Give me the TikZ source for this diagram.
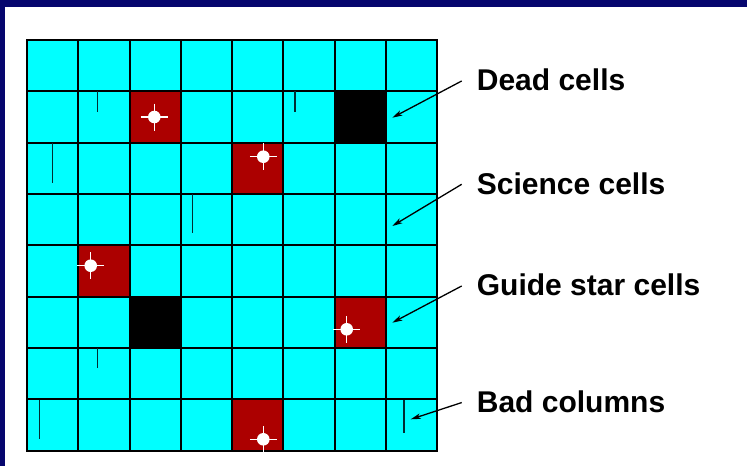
\documentclass[tikz,border=0pt]{standalone}
\usepackage{fontspec}
\setmainfont{Liberation Sans}
\usetikzlibrary{arrows.meta}
\definecolor{navyframe}{RGB}{6,6,110}
\definecolor{cellcyan}{RGB}{0,255,255}
\definecolor{guidered}{RGB}{172,0,0}
\tikzset{
  cellbox/.style={draw=black,line width=2pt,fill=cellcyan,minimum width=51.25pt,minimum height=51.35pt,inner sep=0pt,outer sep=0pt},
  deadcell/.style={cellbox,fill=black},
  guidecell/.style={cellbox,fill=guidered},
  badcol/.style={line width=1.2pt,draw={rgb,255:red,0;green,45;blue,50}},
  lbl/.style={font=\bfseries\fontsize{30}{32}\selectfont,inner sep=0pt,anchor=base west},
  arr/.style={line width=1.3pt,-{Stealth[length=10pt,width=5.5pt,inset=2.5pt,fill=white]}},
  pics/gstar/.style={code={
    \fill[white] (0,0) circle (6.3pt);
    \draw[white,line width=1.4pt] (-13.5,0) -- (13.5,0) (0,-13.5) -- (0,#1);
  }}
}
\begin{document}
\begin{tikzpicture}[x=1pt,y=-1pt]
\useasboundingbox (0,0) rectangle (747,466);
\fill[white] (0,0) rectangle (747,466);
\fill[navyframe] (0,0) rectangle (747,7);
\fill[navyframe] (0,0) rectangle (5,466);
% cells
\foreach \r in {0,...,7}{
  \foreach \c in {0,...,7}{
    \node[cellbox] (c-\c-\r) at ({27+51.25*(\c+0.5)},{40+51.35*(\r+0.5)}) {};
  }
}
\node[guidecell] (g1) at (c-2-1) {};
\node[deadcell]  (d1) at (c-6-1) {};
\node[guidecell] (g2) at (c-4-2) {};
\node[guidecell] (g3) at (c-1-4) {};
\node[deadcell]  (d2) at (c-2-5) {};
\node[guidecell] (g4) at (c-6-5) {};
\node[guidecell] (g5) at (c-4-7) {};
% bad columns
\draw[badcol] (97.3,91) -- (97.3,111.7);
\draw[badcol] (295,91) -- (295,111.7);
\draw[badcol] (52.3,142.7) -- (52.3,182.7);
\draw[badcol] (192.7,194) -- (192.7,233.3);
\draw[badcol] (97.3,348) -- (97.3,368.3);
\draw[badcol] (39.3,400) -- (39.3,439.3);
\draw[badcol] (404,400) -- (404,432.7);
% guide stars
\pic at (154.3,117) {gstar=13.5};
\pic at (263.3,156.7) {gstar=13.5};
\pic at (90.7,265.7) {gstar=13.5};
\pic at (346.7,329.3) {gstar=13.5};
\pic at (263.3,439.3) {gstar=30};
% labels
\node[lbl] (ldead) at (476.7,90.7) {Dead cells};
\node[lbl] (lsci) at (476.7,194) {Science cells};
\node[lbl] (lguide) at (476.7,295.7) {Guide star cells};
\node[lbl] (lbad) at (476.7,412.3) {Bad columns};
\coordinate (tdead) at (392.3,117.7);
\coordinate (tsci) at (392.3,226);
\coordinate (tguide) at (392.3,322.7);
\coordinate (tbad) at (410.7,419.3);
\draw[arr] ([xshift=-15pt,yshift=-1pt]ldead.west) -- (tdead);
\draw[arr] ([xshift=-15pt,yshift=-1pt]lsci.west) -- (tsci);
\draw[arr] ([xshift=-15pt,yshift=-1pt]lguide.west) -- (tguide);
\draw[arr] ([xshift=-15pt,yshift=-1pt]lbad.west) -- (tbad);
\end{tikzpicture}
\end{document}
